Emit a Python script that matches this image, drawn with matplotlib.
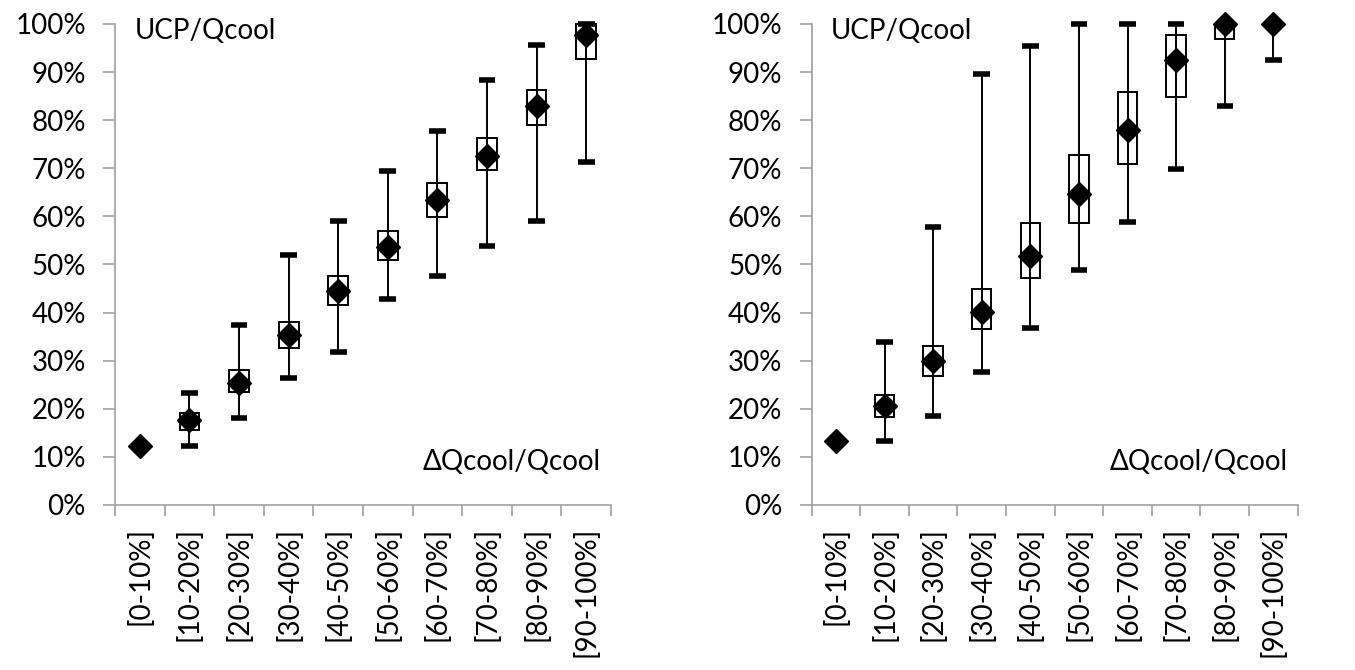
import numpy as np
import matplotlib.pyplot as plt
from matplotlib.patches import Rectangle

plt.rcParams['font.family'] = ['Lato', 'DejaVu Sans']

labels = ['[0-10%]', '[10-20%]', '[20-30%]', '[30-40%]', '[40-50%]',
          '[50-60%]', '[60-70%]', '[70-80%]', '[80-90%]', '[90-100%]']

# left panel (percent)
left_min = [12.2, 12.2, 18.0, 26.3, 31.9, 42.9, 47.7, 53.9, 59.1, 71.2]
left_q1 = [12.2, 15.5, 23.4, 32.7, 41.6, 51.0, 59.9, 69.6, 79.0, 92.7]
left_mean = [12.2, 17.6, 25.4, 35.4, 44.4, 53.6, 63.3, 72.6, 82.9, 97.8]
left_q3 = [12.2, 19.1, 28.1, 38.1, 47.5, 56.9, 66.9, 76.2, 86.2, 100.0]
left_max = [12.2, 23.2, 37.4, 51.9, 59.1, 69.4, 77.8, 88.4, 95.7, 100.0]

# right panel
right_min = [13.4, 13.2, 18.4, 27.7, 36.7, 48.8, 58.8, 69.9, 82.9, 92.6]
right_q1 = [13.4, 18.3, 26.9, 36.5, 47.2, 58.6, 70.8, 84.8, 96.9, 100.0]
right_mean = [13.4, 20.5, 30.0, 40.1, 51.8, 64.7, 78.0, 92.6, 100.0, 100.0]
right_q3 = [13.4, 22.9, 33.0, 44.8, 58.6, 72.8, 85.9, 97.6, 100.0, 100.0]
right_max = [13.4, 33.9, 57.7, 89.5, 95.4, 100.0, 100.0, 100.0, 100.0, 100.0]

yticks = np.arange(0, 101, 10)
ytick_labels = ['%d%%' % v for v in yticks]


def draw_panel(ax, lo, q1, mean, q3, hi):
	x = np.arange(len(labels)) + 0.5
	ax.vlines(x, lo, hi, color='black', lw=1.4, zorder=2, clip_on=False)
	ax.hlines(lo, x - 0.17, x + 0.17, color='black', lw=4, zorder=2, clip_on=False)
	ax.hlines(hi, x - 0.17, x + 0.17, color='black', lw=4, zorder=2, clip_on=False)
	for xi, a, b in zip(x, q1, q3):
		ax.add_patch(Rectangle((xi - 0.2, a), 0.4, b - a, fill=False,
							   edgecolor='black', lw=1.4, zorder=3, clip_on=False))
	ax.plot(x, mean, 'D', color='black', ms=12, zorder=4, clip_on=False)
	ax.set_xlim(0, len(labels))
	ax.set_ylim(0, 100)
	ax.set_yticks(yticks)
	ax.set_yticklabels(ytick_labels, fontsize=20)
	ax.set_xticks(np.arange(len(labels) + 1))
	ax.set_xticklabels([])
	ax.set_xticks(x, minor=True)
	ax.set_xticklabels(labels, minor=True, rotation=90, fontsize=20)
	ax.tick_params(axis='x', which='major', length=8, color='#a0a0a0', width=1.2)
	ax.tick_params(axis='x', which='minor', length=0, pad=16)
	ax.tick_params(axis='y', length=9, color='#a0a0a0', width=1.2, pad=12)
	for s in ['top', 'right']:
		ax.spines[s].set_visible(False)
	for s in ['left', 'bottom']:
		ax.spines[s].set_color('#a0a0a0')
		ax.spines[s].set_linewidth(1.2)
	ax.text(0.04, 0.985, 'UCP/Qcool', transform=ax.transAxes, fontsize=20,
			va='center', ha='left')
	ax.text(0.98, 0.09, 'ΔQcool/Qcool', transform=ax.transAxes, fontsize=20,
			va='center', ha='right')


fig = plt.figure(figsize=(13.55, 6.7), dpi=100)
ax1 = fig.add_axes([0.0849, 0.2463, 0.366, 0.718])
ax2 = fig.add_axes([0.599, 0.2463, 0.3587, 0.718])
draw_panel(ax1, left_min, left_q1, left_mean, left_q3, left_max)
draw_panel(ax2, right_min, right_q1, right_mean, right_q3, right_max)

fig.savefig('out.png', dpi=100)
